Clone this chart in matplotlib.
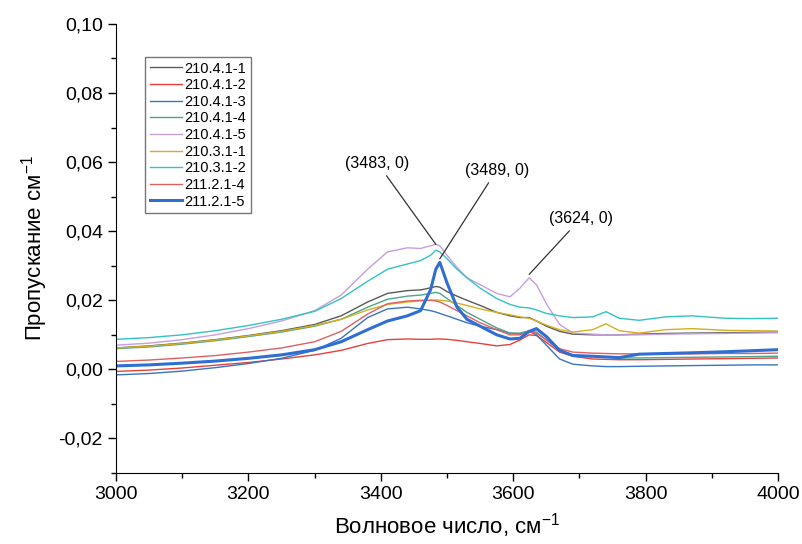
import matplotlib
matplotlib.use("Agg")
import matplotlib.pyplot as plt
from matplotlib.ticker import MultipleLocator, FuncFormatter

plt.rcParams["font.family"] = ["Liberation Sans", "DejaVu Sans"]
plt.rcParams["mathtext.fontset"] = "custom"
plt.rcParams["mathtext.rm"] = "Liberation Sans"

# wavenumber grid, cm-1
wn = [3000, 3050, 3100, 3150, 3200, 3250, 3300, 3340, 3380, 3410, 3440, 3460,
      3475, 3483, 3489, 3500, 3515, 3530, 3550, 3575, 3595, 3610, 3624, 3635,
      3650, 3670, 3690, 3720, 3740, 3760, 3790, 3830, 3870, 3920, 3960, 4000]

s_210_4_1_1 = [0.0062, 0.0068, 0.0076, 0.0086, 0.0098, 0.0112, 0.0130, 0.0155, 0.0195, 0.0220, 0.0228, 0.0230,
               0.0236, 0.0240, 0.0238, 0.0225, 0.0212, 0.0200, 0.0185, 0.0165, 0.0155, 0.0150, 0.0150, 0.0140,
               0.0125, 0.0110, 0.0102, 0.0100, 0.0100, 0.0100, 0.0102, 0.0104, 0.0105, 0.0106, 0.0107, 0.0108]
s_210_4_1_2 = [-0.0006, -0.0002, 0.0004, 0.0012, 0.0020, 0.0030, 0.0042, 0.0055, 0.0075, 0.0086, 0.0088, 0.0087,
               0.0087, 0.0088, 0.0088, 0.0087, 0.0084, 0.0080, 0.0075, 0.0068, 0.0072, 0.0085, 0.0100, 0.0098,
               0.0078, 0.0050, 0.0038, 0.0030, 0.0029, 0.0028, 0.0028, 0.0029, 0.0030, 0.0031, 0.0032, 0.0033]
s_210_4_1_3 = [-0.0016, -0.0012, -0.0005, 0.0005, 0.0017, 0.0032, 0.0055, 0.0090, 0.0150, 0.0175, 0.0180, 0.0175,
               0.0170, 0.0166, 0.0162, 0.0155, 0.0145, 0.0135, 0.0125, 0.0115, 0.0105, 0.0103, 0.0110, 0.0100,
               0.0070, 0.0030, 0.0015, 0.0010, 0.0008, 0.0008, 0.0009, 0.0010, 0.0011, 0.0012, 0.0013, 0.0013]
s_210_4_1_4 = [0.0060, 0.0065, 0.0073, 0.0083, 0.0095, 0.0108, 0.0125, 0.0145, 0.0180, 0.0203, 0.0212, 0.0215,
               0.0220, 0.0223, 0.0220, 0.0205, 0.0185, 0.0165, 0.0145, 0.0120, 0.0105, 0.0105, 0.0112, 0.0108,
               0.0085, 0.0055, 0.0042, 0.0037, 0.0036, 0.0033, 0.0033, 0.0034, 0.0035, 0.0036, 0.0037, 0.0038]
s_210_4_1_5 = [0.0070, 0.0076, 0.0086, 0.0100, 0.0118, 0.0140, 0.0170, 0.0215, 0.0290, 0.0340, 0.0352, 0.0350,
               0.0358, 0.0362, 0.0358, 0.0330, 0.0295, 0.0265, 0.0245, 0.0220, 0.0210, 0.0235, 0.0265, 0.0245,
               0.0190, 0.0130, 0.0105, 0.0102, 0.0100, 0.0100, 0.0100, 0.0102, 0.0103, 0.0104, 0.0105, 0.0106]
s_210_3_1_1 = [0.0062, 0.0067, 0.0075, 0.0085, 0.0097, 0.0110, 0.0127, 0.0145, 0.0172, 0.0188, 0.0195, 0.0198,
               0.0200, 0.0201, 0.0200, 0.0198, 0.0192, 0.0185, 0.0175, 0.0165, 0.0158, 0.0152, 0.0148, 0.0140,
               0.0128, 0.0115, 0.0108, 0.0115, 0.0132, 0.0112, 0.0105, 0.0115, 0.0118, 0.0113, 0.0112, 0.0111]
s_210_3_1_2 = [0.0087, 0.0092, 0.0100, 0.0112, 0.0127, 0.0145, 0.0168, 0.0205, 0.0255, 0.0290, 0.0305, 0.0315,
               0.0330, 0.0345, 0.0340, 0.0320, 0.0290, 0.0265, 0.0235, 0.0205, 0.0188, 0.0180, 0.0178, 0.0172,
               0.0162, 0.0155, 0.0150, 0.0152, 0.0167, 0.0148, 0.0142, 0.0152, 0.0155, 0.0148, 0.0147, 0.0148]
s_211_2_1_4 = [0.0023, 0.0027, 0.0033, 0.0040, 0.0050, 0.0062, 0.0080, 0.0110, 0.0160, 0.0190, 0.0198, 0.0200,
               0.0200, 0.0198, 0.0195, 0.0185, 0.0170, 0.0155, 0.0135, 0.0115, 0.0100, 0.0100, 0.0108, 0.0105,
               0.0085, 0.0060, 0.0050, 0.0047, 0.0046, 0.0045, 0.0045, 0.0045, 0.0045, 0.0046, 0.0046, 0.0047]
s_211_2_1_5 = [0.0010, 0.0013, 0.0018, 0.0024, 0.0032, 0.0042, 0.0057, 0.0080, 0.0115, 0.0140, 0.0155, 0.0170,
               0.0230, 0.0290, 0.0310, 0.0250, 0.0180, 0.0145, 0.0125, 0.0100, 0.0088, 0.0090, 0.0110, 0.0118,
               0.0095, 0.0055, 0.0040, 0.0038, 0.0036, 0.0034, 0.0044, 0.0046, 0.0048, 0.0051, 0.0054, 0.0057]

series = [
    ("210.4.1-1", s_210_4_1_1, "#5a5a5a", 1.0),
    ("210.4.1-2", s_210_4_1_2, "#e8413c", 1.0),
    ("210.4.1-3", s_210_4_1_3, "#3a74c4", 1.0),
    ("210.4.1-4", s_210_4_1_4, "#4ca58a", 1.0),
    ("210.4.1-5", s_210_4_1_5, "#c79fdc", 1.0),
    ("210.3.1-1", s_210_3_1_1, "#d4b020", 1.0),
    ("210.3.1-2", s_210_3_1_2, "#33c3c3", 1.0),
    ("211.2.1-4", s_211_2_1_4, "#e06060", 1.0),
    ("211.2.1-5", s_211_2_1_5, "#2f6fd3", 2.2),
]

# labelled peaks: (x, y of the curve, text position)
peaks = [
    (3483, s_210_4_1_5[wn.index(3483)], (3395, 0.0575)),
    (3489, s_211_2_1_5[wn.index(3489)] + 0.001, (3575, 0.0555)),
    (3624, s_210_4_1_5[wn.index(3624)] + 0.001, (3702, 0.0415)),
]

fig = plt.figure(figsize=(8.03, 5.44), dpi=100)
ax = fig.add_axes([0.1445, 0.1305, 0.8245, 0.8255])

for name, ys, col, lw in series:
    ax.plot(wn, ys, color=col, lw=lw, label=name)

for px, py, (tx, ty) in peaks:
    ax.annotate(f"({px}, 0)", xy=(px, py), xytext=(tx, ty), fontsize=11.5,
                ha="center", va="bottom",
                arrowprops=dict(arrowstyle="-", color="#333333", lw=0.9,
                                shrinkA=2, shrinkB=0))

ax.set_xlim(3000, 4000)
ax.set_ylim(-0.03, 0.10)
ax.xaxis.set_major_locator(MultipleLocator(200))
ax.xaxis.set_minor_locator(MultipleLocator(100))
ax.yaxis.set_major_locator(MultipleLocator(0.02))
ax.yaxis.set_minor_locator(MultipleLocator(0.01))
ax.yaxis.set_major_formatter(FuncFormatter(lambda v, p: f"{v:.2f}".replace(".", ",").replace("-0,00", "0,00")))
ax.tick_params(which="major", direction="out", length=6, width=1, labelsize=14)
ax.tick_params(which="minor", direction="out", length=3.5, width=1)

for side in ("top", "right"):
    ax.spines[side].set_visible(False)

ax.set_xlabel(r"Волновое число, см$^{\mathregular{-1}}$", fontsize=16, labelpad=6)
ax.set_ylabel(r"Пропускание см$^{\mathregular{-1}}$", fontsize=16, labelpad=6)

leg = ax.legend(loc="upper left", bbox_to_anchor=(0.044, 0.926), fontsize=10.5,
                frameon=True, fancybox=False, edgecolor="#555555",
                handlelength=2.2, handletextpad=0.2, labelspacing=0.18,
                borderpad=0.3, borderaxespad=0)
leg.get_frame().set_linewidth(1.0)

fig.savefig("out.png", dpi=100)
